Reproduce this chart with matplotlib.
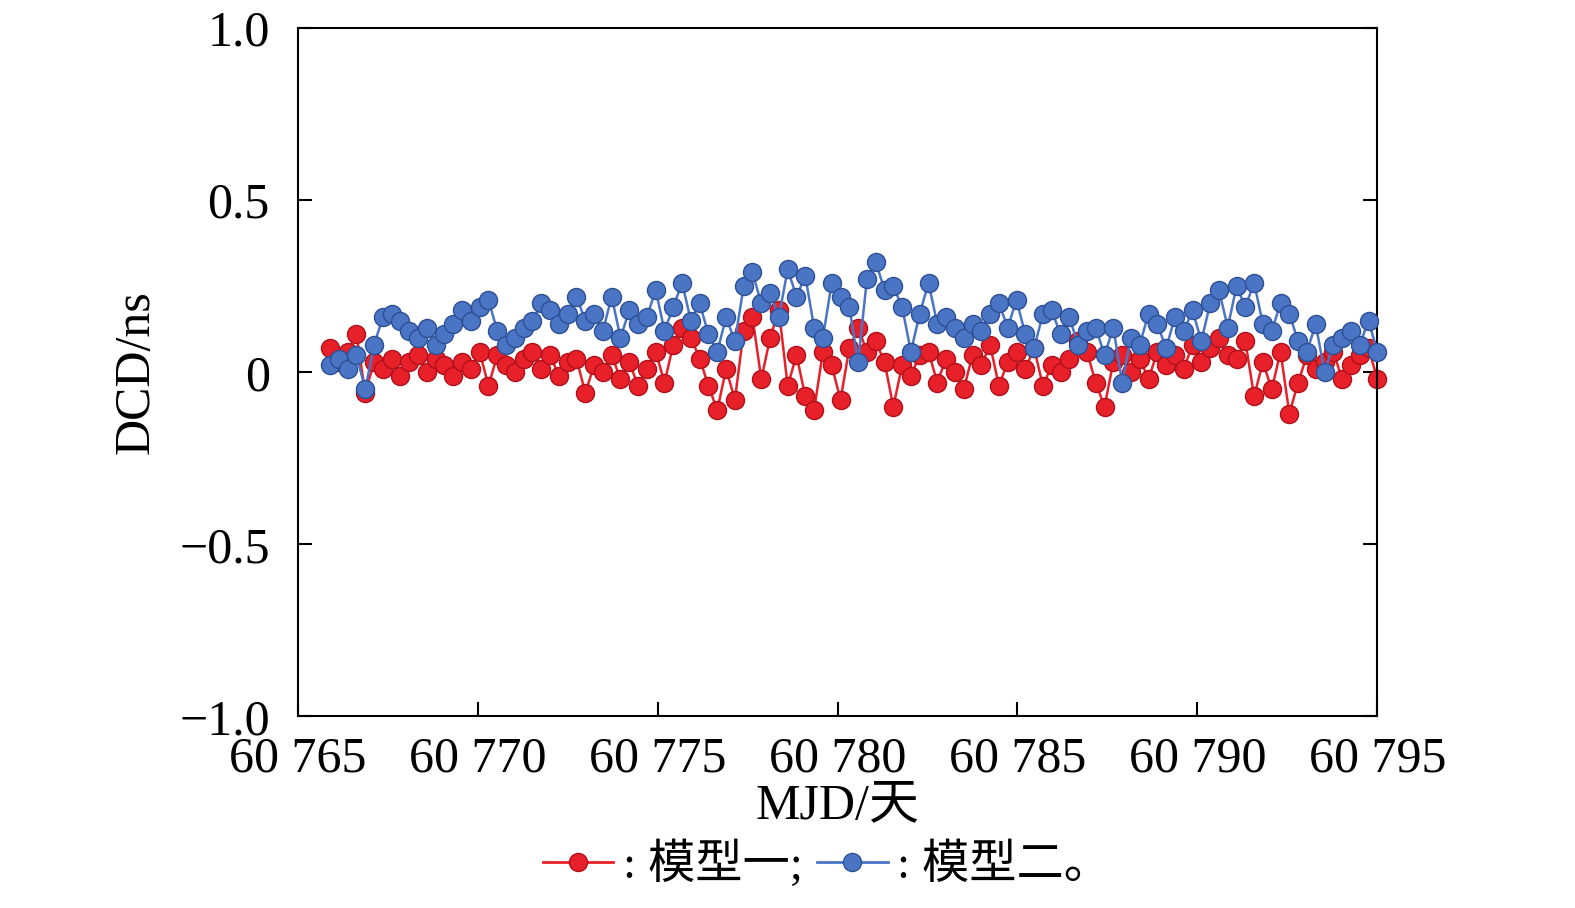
import numpy as np
import matplotlib.pyplot as plt
from matplotlib.lines import Line2D

plt.rcParams['font.family'] = ['Liberation Serif', 'Noto Sans CJK SC']
plt.rcParams['axes.unicode_minus'] = True

model1 = [0.07, 0.03, 0.06, 0.11, -0.06, 0.03, 0.01, 0.04, -0.01, 0.03, 0.05, 0.00,
          0.04, 0.02, -0.01, 0.03, 0.01, 0.06, -0.04, 0.05, 0.02, 0.00, 0.04, 0.06,
          0.01, 0.05, -0.01, 0.03, 0.04, -0.06, 0.02, 0.00, 0.05, -0.02, 0.03, -0.04,
          0.01, 0.06, -0.03, 0.08, 0.13, 0.10, 0.04, -0.04, -0.11, 0.01, -0.08, 0.12,
          0.16, -0.02, 0.10, 0.18, -0.04, 0.05, -0.07, -0.11, 0.06, 0.02, -0.08, 0.07,
          0.13, 0.06, 0.09, 0.03, -0.10, 0.02, -0.01, 0.05, 0.06, -0.03, 0.04, 0.00,
          -0.05, 0.05, 0.02, 0.08, -0.04, 0.03, 0.06, 0.01, 0.07, -0.04, 0.02, 0.00,
          0.04, 0.09, 0.06, -0.03, -0.10, 0.03, 0.05, 0.00, 0.04, -0.02, 0.06, 0.02,
          0.05, 0.01, 0.08, 0.03, 0.07, 0.10, 0.05, 0.04, 0.09, -0.07, 0.03, -0.05,
          0.06, -0.12, -0.03, 0.05, 0.01, 0.03, 0.06, -0.02, 0.02, 0.05, 0.07, -0.02]
model2 = [0.02, 0.04, 0.01, 0.05, -0.05, 0.08, 0.16, 0.17, 0.15, 0.12, 0.10, 0.13,
          0.08, 0.11, 0.14, 0.18, 0.15, 0.19, 0.21, 0.12, 0.08, 0.10, 0.13, 0.15,
          0.20, 0.18, 0.14, 0.17, 0.22, 0.15, 0.17, 0.12, 0.22, 0.10, 0.18, 0.14,
          0.16, 0.24, 0.12, 0.19, 0.26, 0.15, 0.20, 0.11, 0.06, 0.16, 0.09, 0.25,
          0.29, 0.20, 0.23, 0.16, 0.30, 0.22, 0.28, 0.13, 0.10, 0.26, 0.22, 0.19,
          0.03, 0.27, 0.32, 0.24, 0.25, 0.19, 0.06, 0.17, 0.26, 0.14, 0.16, 0.13,
          0.10, 0.14, 0.12, 0.17, 0.20, 0.13, 0.21, 0.11, 0.07, 0.17, 0.18, 0.11,
          0.16, 0.08, 0.12, 0.13, 0.05, 0.13, -0.03, 0.10, 0.08, 0.17, 0.14, 0.07,
          0.16, 0.12, 0.18, 0.09, 0.20, 0.24, 0.13, 0.25, 0.19, 0.26, 0.14, 0.12,
          0.20, 0.17, 0.09, 0.06, 0.14, 0.00, 0.08, 0.10, 0.12, 0.08, 0.15, 0.06]
mjd = np.linspace(60765.9, 60795.0, len(model1))

red = '#e8202a'
blue = '#4a74c4'

fig = plt.figure(figsize=(15.75, 9.08), dpi=100)
ax = fig.add_axes([0.189, 0.211, 0.6855, 0.758])
ax.plot(mjd, model1, '-o', color=red, lw=1.8, ms=13, mec='#b0101a', mew=1,
        zorder=2, clip_on=False)
ax.plot(mjd, model2, '-o', color=blue, lw=1.8, ms=13, mec='#2d4f95', mew=1,
        zorder=3, clip_on=False)

ax.set_xlim(60765, 60795)
ax.set_ylim(-1, 1)
ax.set_xticks(range(60765, 60796, 5))
ax.set_xticklabels(['60 %d' % (v - 60000) for v in range(60765, 60796, 5)])
ax.set_yticks([-1, -0.5, 0, 0.5, 1])
ax.set_yticklabels(['\u22121.0', '\u22120.5', '0', '0.5', '1.0'])
ax.tick_params(direction='in', labelsize=36, length=10, width=1.5, right=True)
ax.tick_params(axis='x', pad=14)
ax.tick_params(axis='y', pad=20)
for s in ax.spines.values():
    s.set_linewidth(1.5)
ax.set_xlabel('MJD/天', fontsize=36, labelpad=0)
ax.set_ylabel('DCD/ns', fontsize=36, labelpad=14)

h1 = Line2D([], [], color=red, marker='o', ms=13, lw=2, mec='#b0101a')
h2 = Line2D([], [], color=blue, marker='o', ms=13, lw=2, mec='#2d4f95')
fig.legend([h1, h2], [': 模型一;', ': 模型二。'], loc='lower center',
           bbox_to_anchor=(0.525, -0.025), ncol=2, frameon=False, fontsize=34,
           handlelength=1.5, handletextpad=0.2, columnspacing=0.3)

fig.savefig('out.png', dpi=100)
